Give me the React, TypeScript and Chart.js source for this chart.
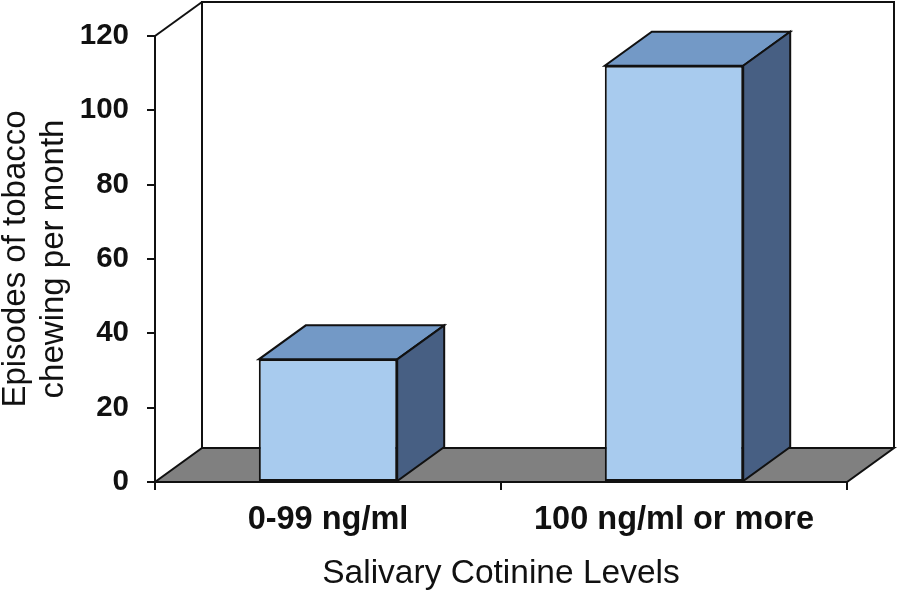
import { Chart, registerables } from 'chart.js';
import React, { useEffect, useRef } from 'react';

Chart.register(...registerables);

const categories = ['0-99 ng/ml', '100 ng/ml or more'];
const episodes = [33, 112];
const yTicks = [0, 20, 40, 60, 80, 100, 120];

const xTitle = 'Salivary Cotinine Levels';
const yTitle = ['Episodes of tobacco', 'chewing per month'];

// depth of the fake 3D box
const DX = 47;
const DY = -34;

const FONT = "'Liberation Sans', Arial, Helvetica, sans-serif";

const box3d = {
    id: 'box3d',
    beforeDraw(chart: Chart) {
        const { ctx, chartArea: a } = chart;
        ctx.save();
        ctx.lineWidth = 2;
        ctx.strokeStyle = '#111';
        ctx.lineJoin = 'miter';

        // back wall
        ctx.beginPath();
        ctx.moveTo(a.left + DX, a.bottom + DY);
        ctx.lineTo(a.left + DX, a.top + DY);
        ctx.lineTo(a.right + DX, a.top + DY);
        ctx.lineTo(a.right + DX, a.bottom + DY);
        ctx.fillStyle = '#ffffff';
        ctx.fill();
        ctx.stroke();

        // left wall top edge
        ctx.beginPath();
        ctx.moveTo(a.left, a.top);
        ctx.lineTo(a.left + DX, a.top + DY);
        ctx.stroke();

        // floor
        ctx.beginPath();
        ctx.moveTo(a.left, a.bottom);
        ctx.lineTo(a.right, a.bottom);
        ctx.lineTo(a.right + DX, a.bottom + DY);
        ctx.lineTo(a.left + DX, a.bottom + DY);
        ctx.closePath();
        ctx.fillStyle = '#808080';
        ctx.fill();
        ctx.stroke();
        ctx.restore();
    },
    afterDatasetsDraw(chart: Chart) {
        const { ctx } = chart;
        const meta = chart.getDatasetMeta(0);
        ctx.save();
        ctx.lineWidth = 2;
        ctx.strokeStyle = '#111';
        ctx.lineJoin = 'miter';
        meta.data.forEach((el: any) => {
            const { x, y, base, width } = el.getProps(['x', 'y', 'base', 'width'], true);
            const l = x - width / 2;
            const r = x + width / 2;

            // top face
            ctx.beginPath();
            ctx.moveTo(l, y);
            ctx.lineTo(r, y);
            ctx.lineTo(r + DX, y + DY);
            ctx.lineTo(l + DX, y + DY);
            ctx.closePath();
            ctx.fillStyle = '#7399C6';
            ctx.fill();
            ctx.stroke();

            // side face
            ctx.beginPath();
            ctx.moveTo(r, y);
            ctx.lineTo(r + DX, y + DY);
            ctx.lineTo(r + DX, base + DY);
            ctx.lineTo(r, base);
            ctx.closePath();
            ctx.fillStyle = '#475F83';
            ctx.fill();
            ctx.stroke();
        });
        ctx.restore();
    },
};

export default function App() {
    const canvasRef = useRef<HTMLCanvasElement>(null);
    const chartRef = useRef<Chart | null>(null);

    useEffect(() => {
        if (!canvasRef.current) return;
        if (chartRef.current) chartRef.current.destroy();

        chartRef.current = new Chart(canvasRef.current, {
            type: 'bar',
            data: {
                labels: categories,
                datasets: [
                    {
                        label: 'Episodes',
                        data: episodes,
                        backgroundColor: '#A8CBEE',
                        borderColor: '#111',
                        borderWidth: 2,
                        borderSkipped: false,
                        barPercentage: 0.8,
                        categoryPercentage: 0.5,
                    },
                ],
            },
            options: {
                responsive: false,
                animation: false,
                layout: { padding: { top: 36, right: 51, left: 0, bottom: 0 } },
                plugins: {
                    legend: { display: false },
                    tooltip: { enabled: false },
                },
                scales: {
                    x: {
                        grid: {
                            display: true,
                            drawOnChartArea: false,
                            drawTicks: true,
                            tickLength: 8,
                            color: '#111',
                            lineWidth: 2,
                        },
                        border: { display: true, color: '#111', width: 2 },
                        ticks: {
                            color: '#111',
                            padding: 11,
                            font: { family: FONT, size: 32.5, weight: 'bold' },
                        },
                        title: {
                            display: true,
                            text: xTitle,
                            color: '#111',
                            padding: { top: 0, bottom: 2 },
                            font: { family: FONT, size: 33.5, lineHeight: 1 },
                        },
                        afterFit(scale: any) {
                            scale.height = 111;
                        },
                    },
                    y: {
                        min: 0,
                        max: 120,
                        afterBuildTicks(scale: any) {
                            scale.ticks = yTicks.map((v) => ({ value: v }));
                        },
                        grid: {
                            display: true,
                            drawOnChartArea: false,
                            drawTicks: true,
                            tickLength: 8,
                            color: '#111',
                            lineWidth: 2,
                        },
                        border: { display: true, color: '#111', width: 2 },
                        ticks: {
                            color: '#111',
                            padding: 18,
                            font: { family: FONT, size: 29.5, weight: 'bold' },
                        },
                        title: {
                            display: true,
                            text: yTitle,
                            color: '#111',
                            padding: { top: -3, bottom: 0 },
                            font: { family: FONT, size: 33, lineHeight: 1.15 },
                        },
                        afterFit(scale: any) {
                            scale.width = 155;
                        },
                    },
                },
            },
            plugins: [box3d],
        });

        return () => {
            if (chartRef.current) {
                chartRef.current.destroy();
                chartRef.current = null;
            }
        };
    }, []);

    return (
        <div style={{ position: 'absolute', left: 0, top: 0, width: 898, height: 593, background: '#fff' }}>
            <canvas ref={canvasRef} width={898} height={593} />
        </div>
    );
}
